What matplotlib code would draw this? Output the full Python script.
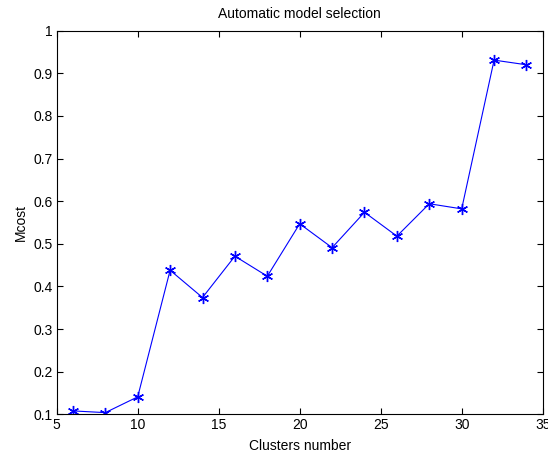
import matplotlib
matplotlib.use("Agg")
import matplotlib.pyplot as plt

clusters = [6, 8, 10, 12, 14, 16, 18, 20, 22, 24, 26, 28, 30, 32, 34]
mcost = [0.108, 0.104, 0.141, 0.438, 0.374, 0.471, 0.424, 0.547,
         0.491, 0.574, 0.518, 0.594, 0.582, 0.931, 0.920]

xticks = [5, 10, 15, 20, 25, 30, 35]
yticks = [0.1, 0.2, 0.3, 0.4, 0.5, 0.6, 0.7, 0.8, 0.9, 1]
ytick_labels = ["0.1", "0.2", "0.3", "0.4", "0.5", "0.6", "0.7", "0.8", "0.9", "1"]

plt.rcParams["font.family"] = ["Liberation Sans", "DejaVu Sans"]

fig = plt.figure(figsize=(5.48, 4.54), dpi=100)
ax = fig.add_axes([0.1035, 0.0874, 0.8868, 0.845])

# matlab-style asterisk marker
ax.plot(clusters, mcost, "-", color="blue", lw=0.8,
        marker=(6, 2, 0), ms=8, mew=1.0)

ax.set_xlim(5, 35)
ax.set_ylim(0.1, 1)
ax.set_xticks(xticks)
ax.set_yticks(yticks)
ax.set_yticklabels(ytick_labels)
ax.tick_params(direction="in", top=True, right=True, labelsize=10,
               length=4, width=0.8, pad=3)
for s in ax.spines.values():
    s.set_linewidth(0.8)

ax.set_xlabel("Clusters number", fontsize=10, labelpad=5)
ax.set_ylabel("Mcost", fontsize=10, labelpad=4)
ax.set_title("Automatic model selection", fontsize=10, pad=9)

fig.savefig("out.png", dpi=100)
